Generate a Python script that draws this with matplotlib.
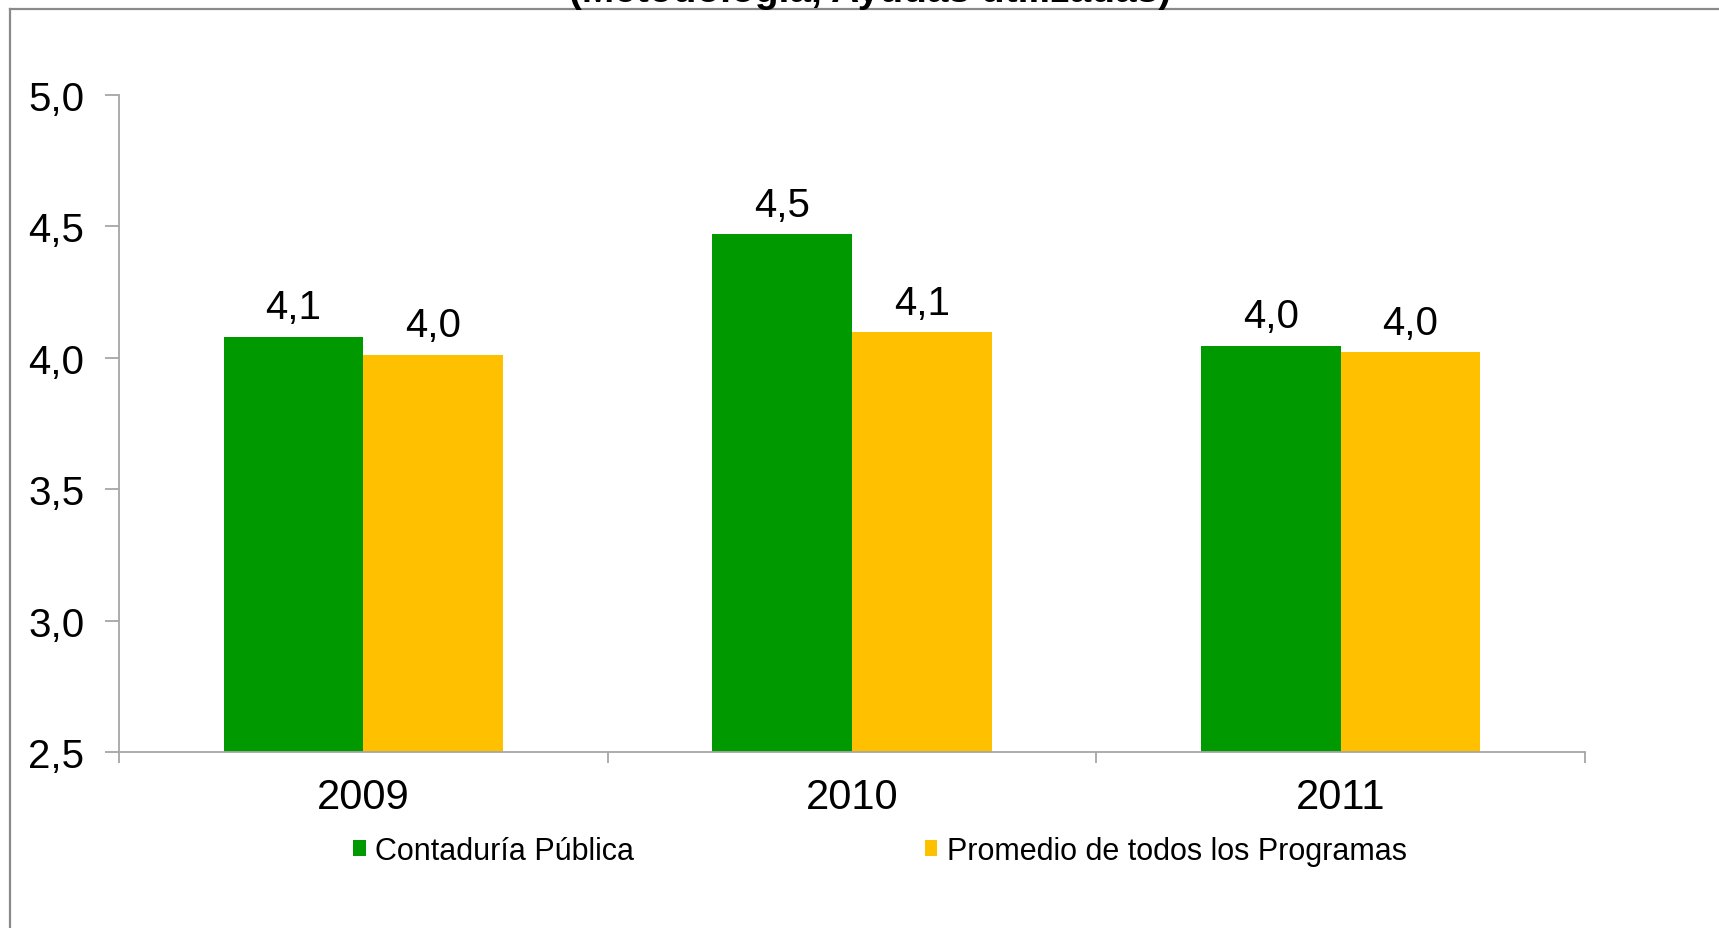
import matplotlib
matplotlib.use("Agg")
import matplotlib.pyplot as plt
from matplotlib.patches import Patch
from matplotlib.lines import Line2D
import numpy as np

plt.rcParams['font.family'] = ['Liberation Sans', 'DejaVu Sans']

years = ["2009", "2010", "2011"]
contaduria = [4.08, 4.47, 4.045]
promedio = [4.01, 4.097, 4.02]
series_names = ["Contaduría Pública", "Promedio de todos los Programas"]
colors = ["#009900", "#FFC000"]
yticks = [2.5, 3.0, 3.5, 4.0, 4.5, 5.0]
subtitle = "(Metodología, Ayudas utilizadas)"

W, H = 1719, 929
fig = plt.figure(figsize=(W / 100, H / 100), dpi=100)
ax = fig.add_axes([119 / W, 1 - 753 / H, (1585 - 119) / W, (753 - 95.7) / H])

x = np.arange(len(years))
bw = 0.2855
b1 = ax.bar(x - bw / 2, contaduria, bw, color=colors[0], zorder=2)
b2 = ax.bar(x + bw / 2, promedio, bw, color=colors[1], zorder=2)

def fmt(v):
    return f"{v:.1f}".replace(".", ",")

for bars, vals in ((b1, contaduria), (b2, promedio)):
    for r, v in zip(bars, vals):
        ax.text(r.get_x() + r.get_width() / 2, v + 0.04, fmt(v),
                ha="center", va="bottom", fontsize=29, color="black")

ax.set_ylim(2.5, 5.0)
ax.set_xlim(-0.5, len(years) - 0.5)
ax.set_yticks(yticks)
ax.set_yticklabels([fmt(t) for t in yticks])

ax.set_xticks(np.arange(len(years) + 1) - 0.5)
ax.set_xticklabels([])
ax.set_xticks(x, minor=True)
ax.set_xticklabels(years, minor=True)

spine_c = "#a6a6a6"
for s in ("top", "right"):
    ax.spines[s].set_visible(False)
for s in ("left", "bottom"):
    ax.spines[s].set_color(spine_c)
    ax.spines[s].set_linewidth(1.3)

ax.tick_params(axis="y", which="major", length=10, width=1.3, color=spine_c,
               labelsize=29, pad=15, labelcolor="black")
ax.tick_params(axis="x", which="major", length=8, width=1.3, color=spine_c,
               direction="out")
ax.tick_params(axis="x", which="minor", length=0, labelsize=30, pad=18,
               labelcolor="black")

handles = [Patch(facecolor=c, edgecolor="none") for c in colors]
leg = fig.legend(handles, series_names, loc="center",
                 bbox_to_anchor=(880 / W, 1 - 852 / H), ncol=2, frameon=False,
                 fontsize=22, handlelength=0.42, handleheight=0.42,
                 handletextpad=0.3, columnspacing=9.5)

# outer frame (top and left edges visible)
fx = 10 / W
fy = 1 - 10 / H
fig.add_artist(Line2D([fx, 1.0], [fy, fy], transform=fig.transFigure,
                      color="#8a8a8a", linewidth=1.6))
fig.add_artist(Line2D([fx, fx], [0.0, fy], transform=fig.transFigure,
                      color="#8a8a8a", linewidth=1.6))

# subtitle partially clipped at top (as in the reference)
fig.text(870 / W, 1 - 2 / H, subtitle, ha="center", va="baseline",
         fontsize=28, fontweight="bold", color="black")

fig.savefig("out.png", dpi=100, facecolor="white")
